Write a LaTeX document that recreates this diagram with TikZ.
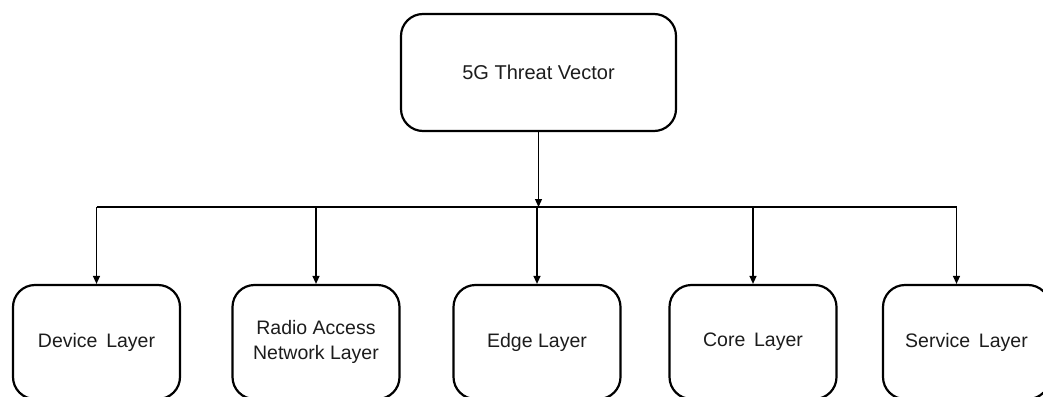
\documentclass[tikz,border=0pt]{standalone}
\usepackage{fontspec}
\setmainfont{Liberation Sans}
\usetikzlibrary{arrows.meta}
\definecolor{VectorInk}{HTML}{000000}
\definecolor{VectorText}{HTML}{1C1C1C}

\tikzset{
  layerbox/.style={draw=VectorInk,line width=2.2pt,rounded corners=22pt,
    minimum width=167pt,minimum height=114pt,inner sep=0pt,align=center,
    text=VectorText,font=\fontsize{19.5}{25}\selectfont},
  wire/.style={draw=VectorInk,line width=1.3pt},
  feed/.style={wire,-{Triangle[length=8pt,width=7pt]}}
}

\begin{document}
\begin{tikzpicture}[x=1pt,y=-1pt]
      \useasboundingbox (0,0) rectangle (1043,396);
      \clip (0,0) rectangle (1043,396);
      % root and the five layers
      \node[layerbox,minimum width=275pt,minimum height=117pt,
        font=\fontsize{20}{24}\selectfont] (vector) at (538.5,72.5) {5G Threat Vector};
      \node[layerbox] (device) at (96.5,342) {Device\hspace{0.45em}Layer};
      \node[layerbox] (ran) at (316,342) {Radio Access\\Network Layer};
      \node[layerbox] (edge) at (537,342) {Edge Layer};
      \node[layerbox] (core) at (753,342) {Core\hspace{0.45em}Layer};
      \node[layerbox] (service) at (966.5,342) {Service\hspace{0.45em}Layer};
      \coordinate (bus) at (537,207);
      \coordinate (tap) at ([xshift=-10pt]service.north);
      % bus between root and layers
      \draw[feed] (vector.south) -- (vector.south |- bus);
      \draw[wire] (device.north |- bus) -- (tap |- bus);
      \draw[feed] (device.north |- bus) -- (device.north);
      \draw[feed] (ran.north |- bus) -- (ran.north);
      \draw[feed] (edge.north |- bus) -- (edge.north);
      \draw[feed] (core.north |- bus) -- (core.north);
      \draw[feed] (tap |- bus) -- (tap);
    \end{tikzpicture}
\end{document}
